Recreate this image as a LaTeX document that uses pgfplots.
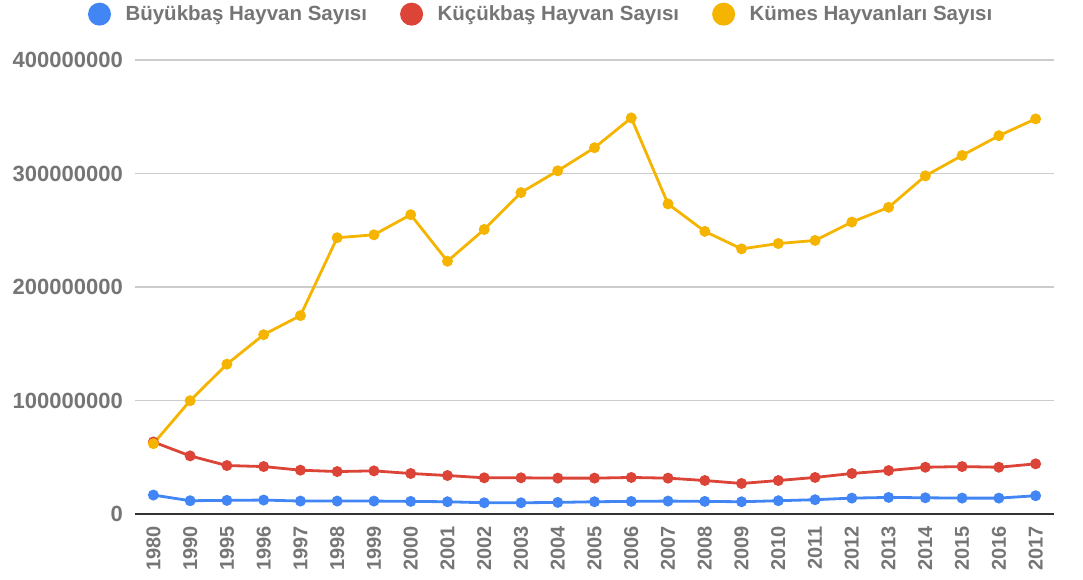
\documentclass[border=0pt]{standalone}
\usepackage{fontspec}
\setmainfont{Liberation Sans}
\usepackage{pgfplots}
\pgfplotsset{compat=1.18}
\definecolor{cblue}{HTML}{4285F4}
\definecolor{cred}{HTML}{DB4437}
\definecolor{cyellow}{HTML}{F4B400}
\definecolor{txtgray}{HTML}{757575}
\definecolor{gridgray}{HTML}{CCCCCC}
\definecolor{axisdark}{HTML}{333333}
\begin{document}
\begin{tikzpicture}
\useasboundingbox (-135pt,-65pt) rectangle (948pt,514pt);
\begin{axis}[
  scale only axis,
  width=919pt, height=454pt,
  xmin=-0.5, xmax=24.5,
  ymin=0, ymax=400000000,
  scaled y ticks=false,
  axis line style={draw=none},
  tick style={draw=none},
  major tick length=0pt,
  xtick={0,...,24},
  xticklabels={1980,1990,1995,1996,1997,1998,1999,2000,2001,2002,2003,2004,2005,2006,2007,2008,2009,2010,2011,2012,2013,2014,2015,2016,2017},
  ytick={0,100000000,200000000,300000000,400000000},
  yticklabels={0,100000000,200000000,300000000,400000000},
  extra y ticks={0},
  extra y tick labels={},
  extra y tick style={grid=major, major grid style={color=axisdark, line width=1.8pt}},
  ymajorgrids,
  major grid style={color=gridgray, line width=1.3pt},
  /pgf/number format/assume math mode=true,
  xticklabel style={rotate=90, anchor=east, inner sep=0pt, font=\fontsize{20}{22}\selectfont\bfseries, text=txtgray},
  xticklabel shift=12pt,
  yticklabel style={anchor=east, inner sep=0pt, font=\fontsize{22}{24}\selectfont\bfseries, text=txtgray},
  yticklabel shift=12pt,
  legend columns=3,
  legend style={at={(axis description cs:0.442,1.101)}, anchor=center, draw=none, fill=none,
    font=\fontsize{20.5}{23}\selectfont\bfseries, text=txtgray,
    /tikz/every odd column/.append style={column sep=0pt},
    /tikz/every even column/.append style={column sep=31pt}},
  legend image code/.code={\fill[#1, draw=none] (0,0) circle (11.5pt); \path[draw=none, fill=none] (-11.5pt,0) -- (24pt,0);},
]
\addplot[color=cblue, line width=2.8pt, mark=*, mark size=4pt, mark options={solid, fill=cblue, draw=none}] coordinates {
(0,16700000) (1,11700000) (2,12000000) (3,12300000) (4,11400000) (5,11400000) (6,11400000) (7,11100000) (8,10800000) (9,9900000) (10,9900000) (11,10200000) (12,10800000) (13,11100000) (14,11400000) (15,11100000) (16,10800000) (17,11700000) (18,12600000) (19,14000000) (20,14600000) (21,14300000) (22,14000000) (23,14000000) (24,16100000)};
\addlegendentry{Büyükbaş Hayvan Sayısı}
\addplot[color=cred, line width=2.8pt, mark=*, mark size=4pt, mark options={solid, fill=cred, draw=none}] coordinates {
(0,63500000) (1,51200000) (2,42700000) (3,41800000) (4,38600000) (5,37400000) (6,38000000) (7,35700000) (8,33900000) (9,31900000) (10,31900000) (11,31600000) (12,31600000) (13,32200000) (14,31600000) (15,29500000) (16,26900000) (17,29500000) (18,32200000) (19,35700000) (20,38300000) (21,41200000) (22,41800000) (23,41200000) (24,44200000)};
\addlegendentry{Küçükbaş Hayvan Sayısı}
\addplot[color=cyellow, line width=2.8pt, mark=*, mark size=4pt, mark options={solid, fill=cyellow, draw=none}] coordinates {
(0,62000000) (1,99800000) (2,132000000) (3,158000000) (4,174800000) (5,243400000) (6,246000000) (7,263700000) (8,222700000) (9,250700000) (10,283200000) (11,302400000) (12,322700000) (13,349000000) (14,273200000) (15,249000000) (16,233600000) (17,238300000) (18,241000000) (19,257200000) (20,270200000) (21,297900000) (22,315900000) (23,333300000) (24,348100000)};
\addlegendentry{Kümes Hayvanları Sayısı}
\end{axis}
\end{tikzpicture}
\end{document}
